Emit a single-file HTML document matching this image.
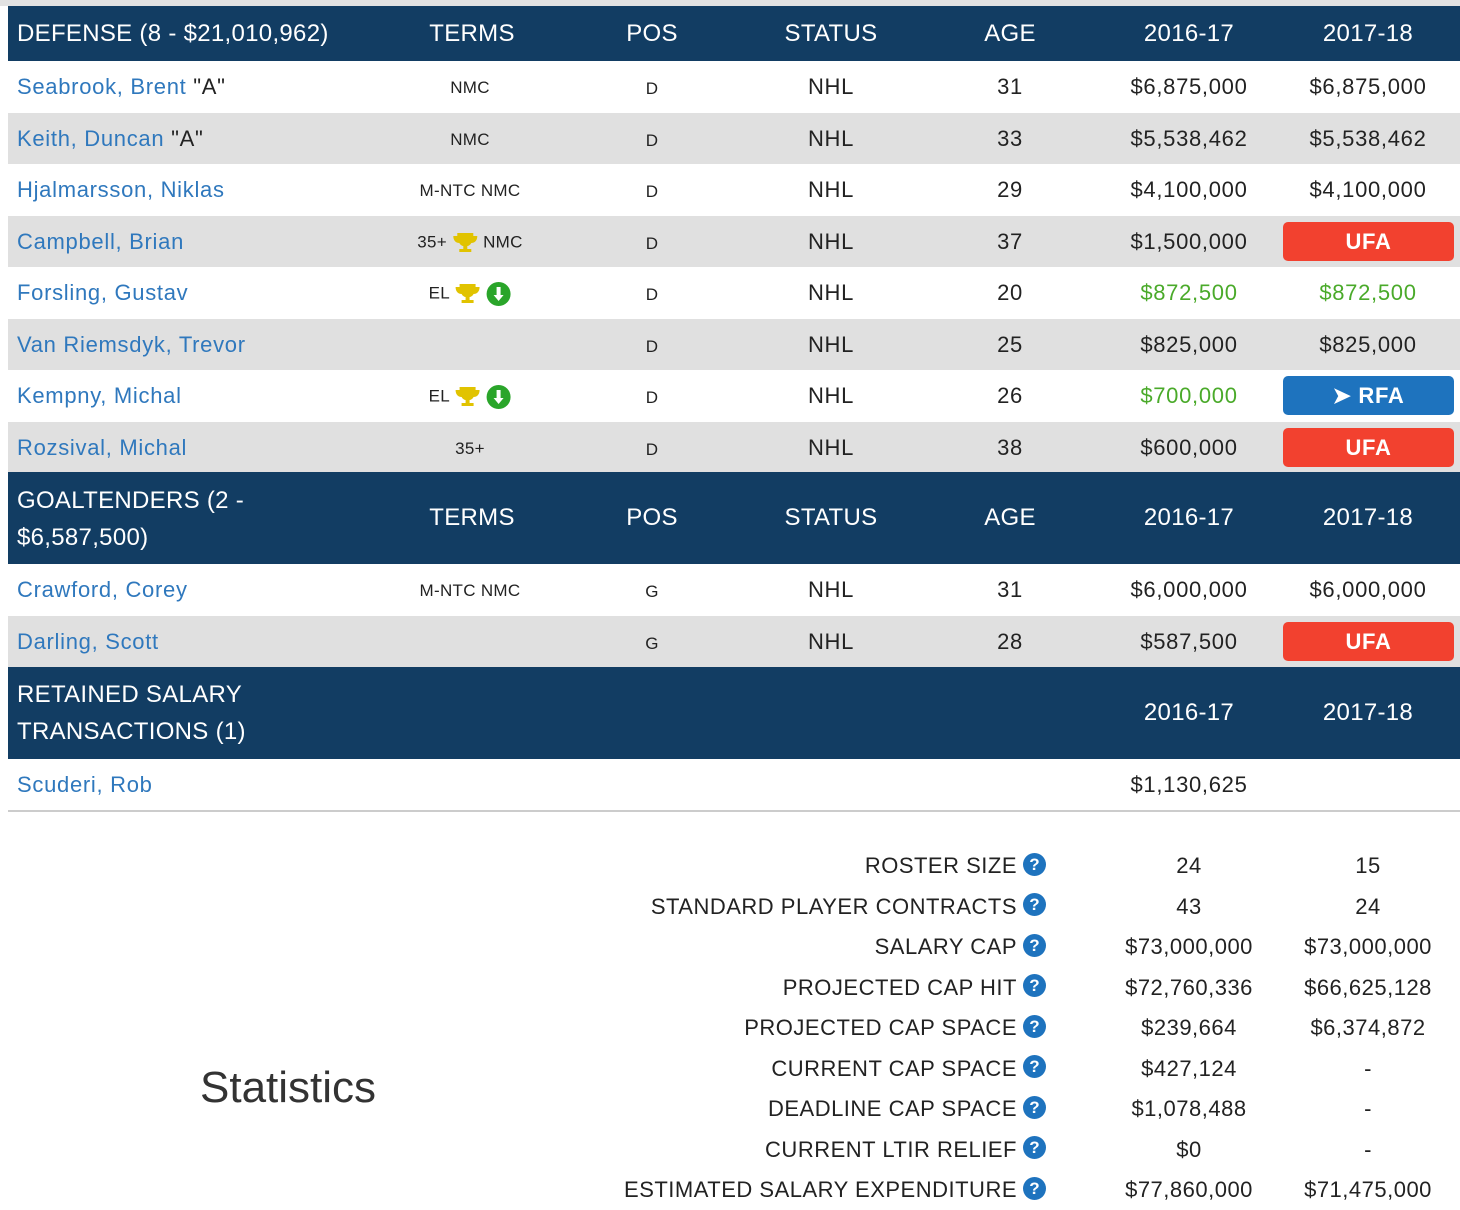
<!DOCTYPE html>
<html><head><meta charset="utf-8"><style>
body{margin:0;width:1460px;height:1210px;background:#fff;position:relative;overflow:hidden;font-family:"Liberation Sans",sans-serif;color:#222}
.top{position:absolute;left:0;top:0;width:1460px;height:6px;background:#e2e2e2}
.hdr{position:absolute;left:8px;width:1452px;background:#123d63;color:#fff;font-size:24px;letter-spacing:0.3px}
.row{position:absolute;left:8px;width:1452px;height:51px;font-size:22px;letter-spacing:0.7px}
.g{background:#e0e0e0}
.c{position:absolute;transform:translate(-50%,-50%);white-space:nowrap}
.l{position:absolute;transform:translateY(-50%);white-space:nowrap}
.name{left:9px;color:#2f78bd}
.sm{font-size:17px;letter-spacing:0.3px}
.grn{color:#4aaa2a}
.badge{position:absolute;left:1275px;width:171px;height:39px;border-radius:5px;color:#fff;font-weight:bold;font-size:22px;text-align:center;line-height:39px;top:6px}
.ufa{background:#f2412f}.rfa{background:#1e73be}
.stat{position:absolute;font-size:22px;transform:translateY(-50%);white-space:nowrap;letter-spacing:0.5px}
.q{display:inline-block;width:23px;height:23px;border-radius:50%;background:#1e73be;color:#fff;font-size:17px;font-weight:bold;text-align:center;line-height:23px;vertical-align:middle;margin-left:6px;position:relative;top:-3px;letter-spacing:0}
.ico{display:inline-block;vertical-align:middle}
</style></head><body>
<div class="top"></div>

<div class="hdr" style="top:6px;height:55px">
<span class="l" style="left:9px;top:28px">DEFENSE (8 - $21,010,962)</span>
<span class="c" style="left:464px;top:28px">TERMS</span><span class="c" style="left:644px;top:28px">POS</span><span class="c" style="left:823px;top:28px">STATUS</span><span class="c" style="left:1002px;top:28px">AGE</span><span class="c" style="left:1181px;top:28px">2016-17</span><span class="c" style="left:1360px;top:28px">2017-18</span>
</div>

<div id="def"></div>

<div class="hdr" style="top:472px;height:92px">
<span style="position:absolute;left:9px;top:10px;line-height:37px">GOALTENDERS (2 -<br>$6,587,500)</span>
<span class="c" style="left:464px;top:46px">TERMS</span><span class="c" style="left:644px;top:46px">POS</span><span class="c" style="left:823px;top:46px">STATUS</span><span class="c" style="left:1002px;top:46px">AGE</span><span class="c" style="left:1181px;top:46px">2016-17</span><span class="c" style="left:1360px;top:46px">2017-18</span>
</div>

<div class="hdr" style="top:667px;height:92px">
<span style="position:absolute;left:9px;top:9px;line-height:37px">RETAINED SALARY<br>TRANSACTIONS (1)</span>
<span class="c" style="left:1181px;top:46px">2016-17</span><span class="c" style="left:1360px;top:46px">2017-18</span>
</div>

<div class="row" style="top:759px;border-bottom:2px solid #ccc">
<span class="l name" style="top:26px">Scuderi, Rob</span>
<span class="c" style="left:1181px;top:26px">$1,130,625</span>
</div>

<div class="l" style="left:200px;top:1088px;font-size:44px;color:#333">Statistics</div>
<div id="stats"></div>

<script>
const trophy='<svg class="ico" width="26" height="24" viewBox="0 0 26 24"><path d="M5 2h16v3h4c0 5-3 7-6 7-1 2-3 3-4 3v3h4v3H7v-3h4v-3c-1 0-3-1-4-3-3 0-6-2-6-7h4z" fill="#e1c300"/></svg>';
const arrow='<svg class="ico" width="26" height="26" viewBox="0 0 26 26"><circle cx="13" cy="13" r="12" fill="#2aa52a"/><path d="M11 6h4v8h3l-5 6-5-6h3z" fill="#fff"/></svg>';
const ufa='<div class="badge ufa">UFA</div>';
const rfa='<div class="badge rfa">&#x27A4; RFA</div>';
const defense=[
["Seabrook, Brent",' "A"',"NMC","D","NHL","31","$6,875,000","$6,875,000",0],
["Keith, Duncan",' "A"',"NMC","D","NHL","33","$5,538,462","$5,538,462",0],
["Hjalmarsson, Niklas","","M-NTC NMC","D","NHL","29","$4,100,000","$4,100,000",0],
["Campbell, Brian","","35+ "+trophy+" NMC","D","NHL","37","$1,500,000","UFA",0],
["Forsling, Gustav","","EL "+trophy+" "+arrow,"D","NHL","20","$872,500","$872,500",1],
["Van Riemsdyk, Trevor","","","D","NHL","25","$825,000","$825,000",0],
["Kempny, Michal","","EL "+trophy+" "+arrow,"D","NHL","26","$700,000","RFA",1],
["Rozsival, Michal","","35+","D","NHL","38","$600,000","UFA",0]];
const goalies=[
["Crawford, Corey","","M-NTC NMC","G","NHL","31","$6,000,000","$6,000,000",0],
["Darling, Scott","","","G","NHL","28","$587,500","UFA",0]];
function rows(data,top0,startGray){
 let h='';
 data.forEach((r,i)=>{
  const top=top0+i*51.5, g=(i%2==1)!==startGray?' g':'';
  const last=r[7]=='UFA'?ufa:r[7]=='RFA'?rfa:`<span class="c${r[8]?' grn':''}" style="left:1360px;top:26px">${r[7]}</span>`;
  h+=`<div class="row${g}" style="top:${top}px">
<span class="l name" style="top:26px"><span>${r[0]}</span><span style="color:#222">${r[1]}</span></span>
<span class="c sm" style="left:462px;top:27px">${r[2]}</span>
<span class="c sm" style="left:644px;top:28px">${r[3]}</span>
<span class="c" style="left:823px;top:26px">${r[4]}</span>
<span class="c" style="left:1002px;top:26px">${r[5]}</span>
<span class="c${r[8]?' grn':''}" style="left:1181px;top:26px">${r[6]}</span>${last}</div>`;
 });
 return h;
}
document.getElementById('def').innerHTML=rows(defense,61,false);
document.getElementById('def').innerHTML+=rows(goalies,564,false);
const statLabels=["ROSTER SIZE","STANDARD PLAYER CONTRACTS","SALARY CAP","PROJECTED CAP HIT","PROJECTED CAP SPACE","CURRENT CAP SPACE","DEADLINE CAP SPACE","CURRENT LTIR RELIEF","ESTIMATED SALARY EXPENDITURE"];
const stat1617=["24","43","$73,000,000","$72,760,336","$239,664","$427,124","$1,078,488","$0","$77,860,000"];
const stat1718=["15","24","$73,000,000","$66,625,128","$6,374,872","-","-","-","$71,475,000"];
let s='';
statLabels.forEach((lab,i)=>{
 const y=866+i*40.5;
 s+=`<div class="stat" style="right:414px;top:${y}px">${lab}<span class="q">?</span></div>
<div class="stat" style="left:1189px;top:${y}px;transform:translate(-50%,-50%)">${stat1617[i]}</div>
<div class="stat" style="left:1368px;top:${y}px;transform:translate(-50%,-50%)">${stat1718[i]}</div>`;
});
document.getElementById('stats').innerHTML=s;
</script>
</body></html>
